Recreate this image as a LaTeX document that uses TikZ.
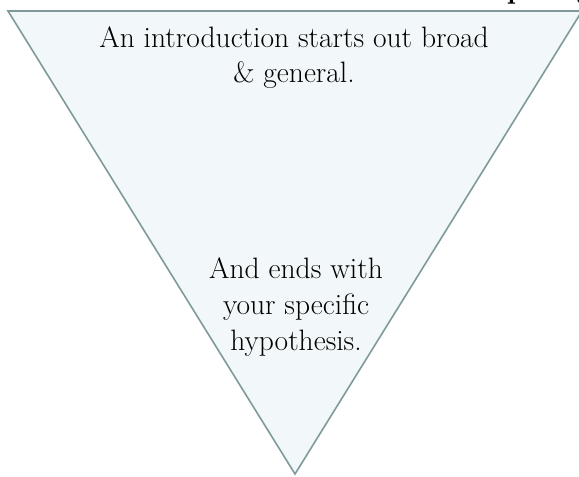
\documentclass[tikz,border=0pt]{standalone}
\usepackage{amsmath}
\usepackage{tikz}
\usepackage{xcolor}

\definecolor{funnelfill}{HTML}{F2F7F9}
\definecolor{funneledge}{HTML}{7F9A9A}

\tikzset{
  funnel/.style={draw=funneledge,fill=funnelfill,line width=1.6pt,line join=miter},
  funneltext/.style={black,align=center,font=\fontsize{29.5}{35}\selectfont,inner sep=0pt}
}

\begin{document}
\begin{tikzpicture}[x=1pt,y=-1pt]
      \useasboundingbox (0,0) rectangle (579,477);
      \clip (0,0) rectangle (579,477);
      \coordinate (topleft) at (8,11);
      \coordinate (topright) at (582,11);
      \coordinate (tip) at (295,474);
      \draw [funnel] (topleft) -- (topright) -- (tip) -- cycle;
      \node [funneltext,anchor=base] (broad) at (294,47) {An introduction starts out broad};
      \node [funneltext,anchor=base] (general) at (294,82) {\& general.};
      \node [funneltext,anchor=base] (ends) at (296,278) {And ends with};
      \node [funneltext,anchor=base] (specific) at (296,314) {your specific};
      \node [funneltext,anchor=base] (hypothesis) at (296,350) {hypothesis.};
      \node [funneltext,anchor=base,font=\fontsize{29.5}{35}\selectfont\bfseries] (headp) at (516,-2) {p};
      \node [funneltext,anchor=base,font=\fontsize{29.5}{35}\selectfont\bfseries] (headg) at (585,-2) {g};
    \end{tikzpicture}
\end{document}
